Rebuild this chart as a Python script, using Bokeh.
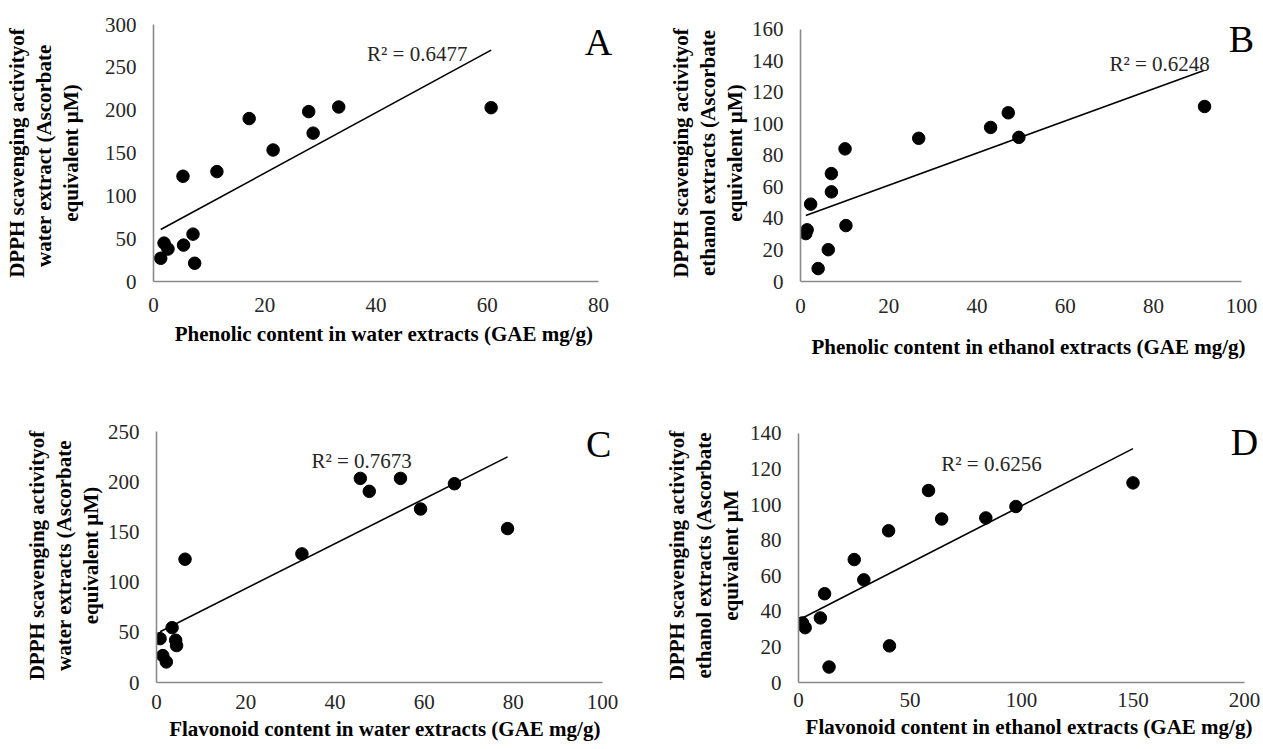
from bokeh.plotting import figure
from bokeh.models import Range1d, FixedTicker, Label
from bokeh.layouts import column, row
from bokeh.embed import file_html
from bokeh.resources import INLINE
import numpy as np

# ---------------- data ----------------
a_x = [1.3, 1.9, 2.6, 5.4, 5.3, 7.1, 7.4, 11.4, 17.2, 21.5, 27.9, 28.7, 33.3, 60.7]
a_y = [27.1, 44.8, 37.9, 42.5, 122.9, 55.3, 21.3, 128.3, 190.2, 153.5, 198.3, 173.2, 203.7, 202.9]

b_x = [1.2, 1.5, 2.3, 4.0, 6.3, 7.0, 7.0, 10.1, 10.3, 26.8, 43.1, 47.1, 49.5, 91.6]
b_y = [30.4, 32.8, 49.1, 8.2, 20.2, 68.5, 56.9, 84.2, 35.5, 90.9, 97.8, 107.1, 91.5, 111.1]

c_x = [0.8, 1.4, 2.2, 3.5, 4.3, 4.5, 6.4, 32.6, 45.7, 47.7, 54.7, 59.2, 66.8, 78.7]
c_y = [43.7, 26.8, 20.5, 54.6, 42.1, 36.8, 122.8, 128.1, 203.3, 190.4, 203.3, 172.8, 198.0, 153.3]

d_x = [1.8, 3.0, 9.8, 11.7, 13.7, 25.0, 29.3, 40.4, 40.8, 58.3, 64.2, 84.0, 97.5, 150.0]
d_y = [33.5, 30.8, 36.3, 49.9, 8.7, 69.1, 57.7, 85.3, 20.6, 107.9, 91.9, 92.5, 98.9, 112.2]

a_xticks = [0, 20, 40, 60, 80]
a_yticks = [0, 50, 100, 150, 200, 250, 300]
b_xticks = [0, 20, 40, 60, 80, 100]
b_yticks = [0, 20, 40, 60, 80, 100, 120, 140, 160]
c_xticks = [0, 20, 40, 60, 80, 100]
c_yticks = [0, 50, 100, 150, 200, 250]
d_xticks = [0, 50, 100, 150, 200]
d_yticks = [0, 20, 40, 60, 80, 100, 120, 140]

a_xlabel = "Phenolic content in water extracts (GAE mg/g)"
b_xlabel = "Phenolic content in ethanol extracts (GAE mg/g)"
c_xlabel = "Flavonoid content in water extracts (GAE mg/g)"
d_xlabel = "Flavonoid content in ethanol extracts (GAE mg/g)"

a_ylabel = "DPPH scavenging activityof\nwater extract  (Ascorbate\nequivalent µM)"
b_ylabel = "DPPH scavenging activityof\nethanol extracts (Ascorbate\nequivalent µM)"
c_ylabel = "DPPH scavenging activityof\nwater extracts (Ascorbate\nequivalent µM)"
d_ylabel = "DPPH scavenging activityof\nethanol extracts (Ascorbate\nequivalent µM"

r2_texts = ["R² = 0.6477", "R² = 0.6248", "R² = 0.7673", "R² = 0.6256"]
letters = ["A", "B", "C", "D"]

SERIF = "Liberation Serif"
TOP_H = 400
BOT_H = 349


def title_fig(text, width, height, yc_rel):
    """Narrow figure whose only visible part is the y-axis title, centred at yc_rel."""
    hh = min(yc_rel, height - yc_rel) - 2
    t = figure(width=width, height=height, x_range=Range1d(0, 1), y_range=Range1d(0, 1),
               output_backend="svg", toolbar_location=None,
               min_border_left=width - 2, min_border_right=0,
               min_border_top=int(yc_rel - hh), min_border_bottom=int(height - (yc_rel + hh)))
    t.xaxis.visible = False
    t.grid.visible = False
    t.outline_line_color = None
    ax = t.yaxis[0]
    ax.ticker = FixedTicker(ticks=[])
    ax.axis_line_color = None
    ax.major_tick_out = 0
    ax.major_tick_in = 0
    ax.minor_tick_out = 0
    ax.major_label_standoff = 0
    ax.axis_label = text
    ax.axis_label_standoff = 0
    ax.axis_label_text_font = SERIF
    ax.axis_label_text_font_size = "21px"
    ax.axis_label_text_font_style = "bold"
    ax.axis_label_text_color = "black"
    ax.axis_label_text_line_height = 1.12
    return t


def panel(xs, ys, xmax, ymax, xticks, yticks, xlabel, ytitle, r2, r2_page, letter, letter_page,
          fig_x0, fig_x1, title_w, title_yc, frame_l, axis_r, frame_r,
          frame_t, axis_t, axis_b, row_top, row_h, xtick_standoff, xlab_standoff):
    kx = xmax / (axis_r - frame_l)
    ky = ymax / (axis_b - axis_t)
    x_end = xmax + (frame_r - axis_r) * kx
    y_end = ymax + (axis_t - frame_t) * ky

    w = fig_x1 - fig_x0 - title_w
    p = figure(width=w, height=row_h, x_range=Range1d(0, x_end), y_range=Range1d(0, y_end),
               output_backend="svg", toolbar_location=None,
               min_border_left=frame_l - (fig_x0 + title_w), min_border_right=fig_x1 - frame_r,
               min_border_top=frame_t - row_top, min_border_bottom=row_top + row_h - axis_b)
    p.outline_line_color = None
    p.grid.visible = False

    p.xaxis.ticker = FixedTicker(ticks=xticks)
    p.yaxis.ticker = FixedTicker(ticks=yticks)
    p.xaxis.bounds = (0, xmax)
    p.yaxis.bounds = (0, ymax)
    for ax in (p.xaxis[0], p.yaxis[0]):
        ax.axis_line_color = "#8a8a8a"
        ax.axis_line_width = 1.6
        ax.major_tick_line_color = None
        ax.minor_tick_line_color = None
        ax.major_tick_out = 0
        ax.major_tick_in = 0
        ax.minor_tick_out = 0
        ax.major_label_text_font = SERIF
        ax.major_label_text_font_size = "21px"
        ax.major_label_text_color = "#262626"
        ax.axis_label_text_font = SERIF
        ax.axis_label_text_font_size = "21px"
        ax.axis_label_text_font_style = "bold"
        ax.axis_label_text_color = "black"
    p.xaxis.axis_label = xlabel
    p.yaxis.major_label_standoff = 17
    p.xaxis.major_label_standoff = xtick_standoff
    p.xaxis.axis_label_standoff = xlab_standoff

    coef = np.polyfit(xs, ys, 1)
    xl = np.array([min(xs), max(xs)])
    p.line(xl, np.polyval(coef, xl), line_color="black", line_width=1.6)
    p.scatter(xs, ys, size=12.5, fill_color="black", line_color="black")

    def to_data(px, py):
        return (px - frame_l) * kx, (axis_b - py) * ky

    rx, ry = to_data(*r2_page)
    p.add_layout(Label(x=rx, y=ry, text=r2, text_align="center", text_baseline="middle",
                       text_font=SERIF, text_font_size="21px", text_color="#262626"))
    lx, ly = to_data(*letter_page)
    p.add_layout(Label(x=lx, y=ly, text=letter, text_align="center", text_baseline="middle",
                       text_font=SERIF, text_font_size="38px", text_color="black"))

    t = title_fig(ytitle, title_w, row_h, title_yc - row_top)
    return t, p


tA, pA = panel(a_x, a_y, 80, 300, a_xticks, a_yticks, a_xlabel, a_ylabel,
               r2_texts[0], (416.7, 53.3), letters[0], (598, 41.7),
               0, 640, 84, 185, 153, 598, 614, 24, 24, 282, 0, TOP_H, 16, 7)
tB, pB = panel(b_x, b_y, 100, 160, b_xticks, b_yticks, b_xlabel, b_ylabel,
               r2_texts[1], (1158.5, 61.7), letters[1], (1240.7, 36.7),
               640, 1263, 108, 165, 797, 1241, 1256, 22, 27, 281, 0, TOP_H, 17, 19)
tC, pC = panel(c_x, c_y, 100, 250, c_xticks, c_yticks, c_xlabel, c_ylabel,
               r2_texts[2], (360, 460), letters[2], (598, 443),
               0, 640, 104, 575, 154, 602, 613, 428, 431, 682, TOP_H, BOT_H, 12, 5)
tD, pD = panel(d_x, d_y, 200, 140, d_xticks, d_yticks, d_xlabel, d_ylabel,
               r2_texts[3], (991, 460), letters[3], (1244, 438),
               640, 1263, 104, 562, 798, 1244, 1259, 424, 429, 682, TOP_H, BOT_H, 10, 5)

layout = column(row(tA, pA, tB, pB), row(tC, pC, tD, pD))
open("out.html", "w").write(file_html(layout, INLINE))
